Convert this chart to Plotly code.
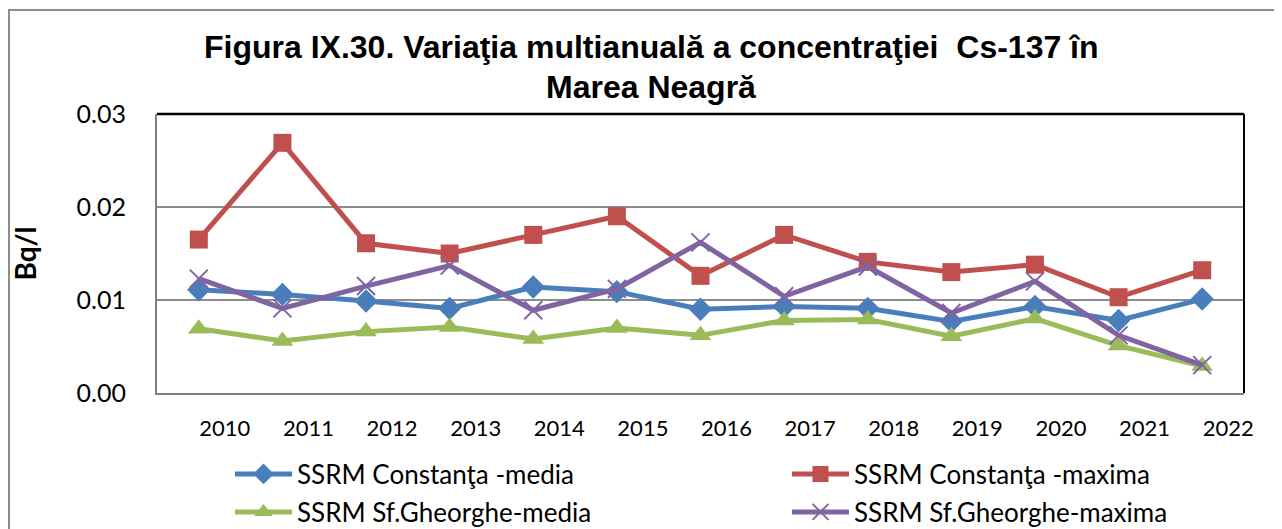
import plotly.graph_objects as go

years = ["2010", "2011", "2012", "2013", "2014", "2015", "2016",
         "2017", "2018", "2019", "2020", "2021", "2022"]
constanta_media = [0.0111, 0.0106, 0.0099, 0.0091, 0.0114, 0.0109, 0.0090,
                   0.0093, 0.0091, 0.0077, 0.0093, 0.0078, 0.0101]
constanta_maxima = [0.0165, 0.0269, 0.0161, 0.0150, 0.0170, 0.0190, 0.0126,
                    0.0170, 0.0141, 0.0130, 0.0138, 0.0103, 0.0132]
sfg_media = [0.0069, 0.0056, 0.0066, 0.0071, 0.0058, 0.0070, 0.0062,
             0.0078, 0.0079, 0.0061, 0.0080, 0.0051, 0.0029]
sfg_maxima = [0.0123, 0.0091, 0.0115, 0.0137, 0.0089, 0.0112, 0.0162,
              0.0104, 0.0136, 0.0086, 0.0120, 0.0062, 0.0030]
y_ticks = [0.0, 0.01, 0.02, 0.03]

# page body has an 8px margin; work in page pixels and convert
OFF = 8
W, H = 1282 - OFF, 529 - OFF
L, R, T, B = 157 - OFF, 1244 - OFF, 114 - OFF, 393 - OFF
PW, PH = R - L, B - T

def px(x):
    return (x - OFF - L) / PW

def py(y):
    return (B - (y - OFF)) / PH

FONT = "Lato"
series = [
    ("SSRM Constanţa -media", constanta_media, "#4A7EBB",
     dict(symbol="diamond", size=18), "legend", (238, 474)),
    ("SSRM Constanţa -maxima", constanta_maxima, "#C0504D",
     dict(symbol="square", size=18), "legend2", (795, 474)),
    ("SSRM Sf.Gheorghe-media", sfg_media, "#9BBB59",
     dict(symbol="triangle-up", size=19), "legend3", (238, 512)),
    ("SSRM Sf.Gheorghe-maxima", sfg_maxima, "#8064A2",
     dict(symbol="x-thin", size=18, line=dict(width=2, color="#8064A2")), "legend4", (795, 512)),
]

fig = go.Figure()
for name, vals, col, mk, lg, _ in series:
    m = dict(mk)
    m["color"] = col
    fig.add_trace(go.Scatter(x=years, y=vals, name=name, mode="lines+markers",
                             line=dict(color=col, width=5), marker=m, legend=lg,
                             cliponaxis=False))

legend_common = dict(orientation="h", xanchor="left", yanchor="middle",
                     font=dict(family=FONT, size=26, color="#000000"),
                     bgcolor="rgba(0,0,0,0)", itemwidth=57)
layout_legends = {}
for name, vals, col, mk, lg, (lx, ly) in series:
    layout_legends[lg] = dict(legend_common, x=px(lx - 8), y=py(ly))

fig.update_layout(
    width=W, height=H,
    margin=dict(l=L, r=W - R, t=T, b=H - B, autoexpand=False),
    paper_bgcolor="white", plot_bgcolor="white",
    showlegend=True,
    xaxis=dict(type="category", range=[-0.5, 12.5], showgrid=False,
               showline=True, linecolor="#808080", linewidth=2,
               ticks="", tickfont=dict(family=FONT, size=22, color="#000000"),
               ticklabelshift=26, ticklabelstandoff=15, zeroline=False),
    yaxis=dict(range=[0, 0.03], tickvals=y_ticks, tickformat=".2f",
               showgrid=True, gridcolor="#8C8C8C", gridwidth=2,
               showline=True, linecolor="#808080", linewidth=2,
               ticks="", tickfont=dict(family=FONT, size=25, color="#000000"),
               ticklabelstandoff=24, zeroline=False,
               title=dict(text="<b>Bq/l</b>", font=dict(family=FONT, size=28, color="#000000"),
                          standoff=34)),
    **layout_legends,
)

# plot frame (top and right darker)
fig.add_shape(type="line", xref="paper", yref="paper", x0=0, x1=1, y0=1, y1=1,
              line=dict(color="#000000", width=2.5))
fig.add_shape(type="line", xref="paper", yref="paper", x0=1, x1=1, y0=0, y1=1,
              line=dict(color="#000000", width=2))
# outer chart border
fig.add_shape(type="path", xref="paper", yref="paper",
              path=f"M {px(9)} {py(540)} L {px(9)} {py(10)} L {px(1300)} {py(10)}",
              line=dict(color="#8C8C8C", width=2))

title_font = dict(family="Liberation Sans", size=32, color="#000000")
fig.add_annotation(text="<b>Figura IX.30. Variaţia multianuală a concentraţiei  Cs-137 în</b>",
                   xref="paper", yref="paper", x=px(651), y=py(47),
                   xanchor="center", yanchor="middle", showarrow=False, font=title_font)
fig.add_annotation(text="<b>Marea Neagră</b>",
                   xref="paper", yref="paper", x=px(651), y=py(87),
                   xanchor="center", yanchor="middle", showarrow=False, font=title_font)

fig.write_html("out.html")
